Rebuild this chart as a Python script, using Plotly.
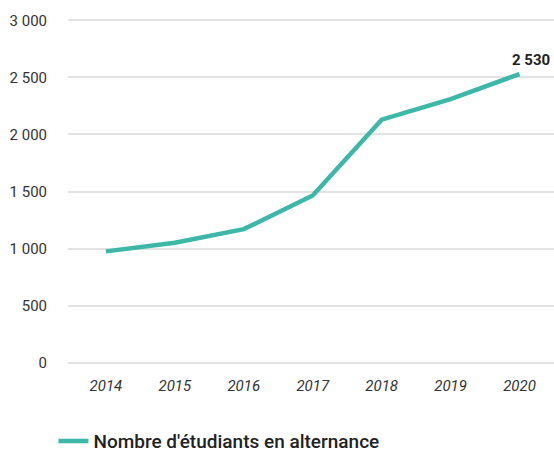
import plotly.graph_objects as go

years = ["2014", "2015", "2016", "2017", "2018", "2019", "2020"]
values = [975, 1050, 1170, 1465, 2130, 2310, 2530]
series_name = "Nombre d'étudiants en alternance"
y_ticks = [0, 500, 1000, 1500, 2000, 2500, 3000]
y_tick_text = ["0", "500", "1 000", "1 500", "2 000", "2 500", "3 000"]
last_label = "2 530"

color = "#3db8a8"
font = "Roboto"

fig = go.Figure()
fig.add_trace(go.Scatter(
    x=years, y=values, mode="lines", name=series_name,
    line=dict(color=color, width=4.5),
))
fig.add_annotation(
    x=len(years) - 1, y=values[-1], text="<b>" + last_label + "</b>", showarrow=False,
    xref="x", yref="y",
    xanchor="center", yanchor="bottom", xshift=11, yshift=3,
    font=dict(family=font, size=15, color="#222"),
)

fig.update_layout(
    width=554, height=452,
    margin=dict(l=68, r=0, t=17, b=86, autoexpand=False),
    paper_bgcolor="white", plot_bgcolor="white",
    font=dict(family=font, size=15, color="#333"),
    showlegend=True,
    legend=dict(
        orientation="h", x=-0.03, xanchor="left", y=-0.215, yanchor="middle",
        font=dict(family=font, size=19, color="#222", weight=500),
    ),
    xaxis=dict(
        type="category", range=[-0.55, 6.5], showgrid=False, zeroline=False,
        showline=False, ticks="", automargin=False, ticklabelstandoff=9,
        tickfont=dict(family=font, size=15, color="#333", style="italic"),
    ),
    yaxis=dict(
        range=[-30, 3030], tickvals=y_ticks, ticktext=y_tick_text,
        showgrid=True, gridcolor="#e3e3e3", gridwidth=1.5,
        zeroline=False, showline=False, ticks="", ticklabelstandoff=20,
        automargin=False,
        tickfont=dict(family=font, size=15, color="#333"),
    ),
)

fig.write_html("out.html", config={"displayModeBar": False},
               post_script="document.body.style.margin='0';")
